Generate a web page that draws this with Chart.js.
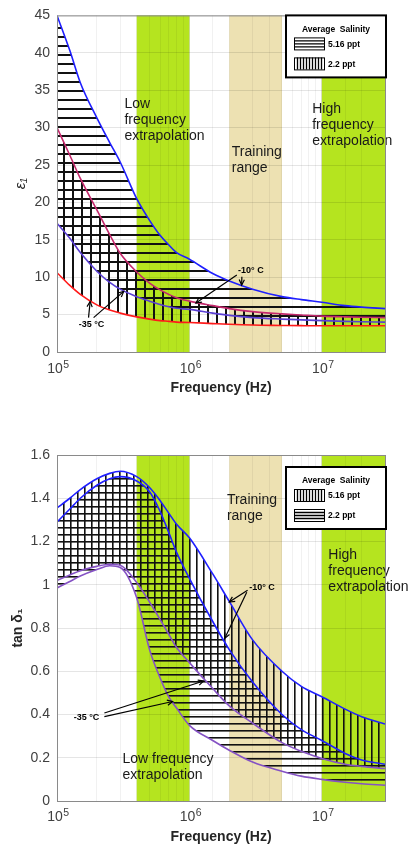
<!DOCTYPE html>
<html>
<head>
<meta charset="utf-8">
<script src="https://cdn.jsdelivr.net/npm/chart.js@4.4.1/dist/chart.umd.min.js"></script>
<style>
  html, body { margin: 0; padding: 0; background: #fff; }
  #wrap { position: relative; width: 409px; height: 847px; }
  #permChart { position: absolute; left: 0; top: 0; }
  #lossChart { position: absolute; left: 0; top: 415px; }
</style>
</head>
<body>
<div id="wrap">
  <canvas id="permChart" width="409" height="398"></canvas>
  <canvas id="lossChart" width="409" height="432"></canvas>
</div>
<script>
const FONT = '"Liberation Sans", Arial, sans-serif';

// shared frequency grid (Hz)
const freqs = [1e5, 1.25e5, 1.5e5, 2e5, 2.5e5, 3e5, 4e5, 5e5, 6e5, 7e5, 8e5, 1e6, 1.5e6, 2e6, 3e6, 5e6, 7e6, 1e7, 1.5e7, 2e7, 3e7];

// real permittivity, -10 C and -35 C for each salinity
const eps516Warm = [45, 40.3, 36, 31.3, 28, 25.4, 20.5, 17.6, 15.6, 14.3, 13.3, 12.4, 10.5, 9.5, 8.4, 7.4, 7.0, 6.65, 6.2, 6.0, 5.8];
const eps22Warm  = [30, 26.3, 23.2, 19.0, 15.7, 13.2, 10.7, 9.2, 8.3, 7.7, 7.25, 6.8, 6.2, 5.8, 5.4, 5.1, 4.95, 4.8, 4.7, 4.65, 4.6];
const eps516Cold = [17.2, 15.2, 13.3, 10.8, 9.3, 8.4, 7.4, 6.8, 6.35, 6.05, 5.85, 5.7, 5.2, 4.9, 4.6, 4.4, 4.3, 4.2, 4.1, 4.05, 4.0];
const eps22Cold  = [10.6, 8.9, 7.7, 6.3, 5.6, 5.2, 4.7, 4.4, 4.2, 4.1, 4.0, 3.95, 3.8, 3.7, 3.6, 3.55, 3.52, 3.5, 3.5, 3.5, 3.5];

// loss tangent
const tan516Warm = [1.355, 1.40, 1.44, 1.49, 1.515, 1.525, 1.50, 1.45, 1.39, 1.33, 1.28, 1.217, 1.05, 0.923, 0.745, 0.60, 0.53, 0.482, 0.425, 0.39, 0.356];
const tan22Warm  = [1.29, 1.35, 1.40, 1.46, 1.49, 1.50, 1.48, 1.43, 1.34, 1.24, 1.15, 1.03, 0.83, 0.70, 0.55, 0.40, 0.33, 0.28, 0.22, 0.19, 0.17];
const tan516Cold = [1.02, 1.045, 1.065, 1.085, 1.095, 1.09, 1.01, 0.92, 0.84, 0.77, 0.71, 0.64, 0.52, 0.44, 0.36, 0.27, 0.23, 0.197, 0.17, 0.16, 0.15];
const tan22Cold  = [0.985, 1.015, 1.04, 1.07, 1.088, 1.08, 0.94, 0.70, 0.57, 0.48, 0.43, 0.35, 0.28, 0.235, 0.18, 0.138, 0.115, 0.10, 0.087, 0.08, 0.073];

// frequency ranges
const lowBand = [4e5, 1e6];
const trainBand = [2e6, 5e6];
const highBand = [1e7, 3e7];

const salinityTitle = 'Average  Salinity';
const salinityLabels = ['5.16 ppt', '2.2 ppt'];
const epsTicks = { min: 0, max: 45, step: 5 };
const tanTicks = { min: 0, max: 1.6, step: 0.2 };

const isDecade = v => { const p = Math.log10(v); return Math.abs(p - Math.round(p)) < 1e-6; };

function hatch(ctx, dir, gap, width) {
    const c = document.createElement('canvas');
    c.width = gap; c.height = gap;
    const g = c.getContext('2d');
    g.fillStyle = '#111';
    if (dir === 'h') g.fillRect(0, 0, gap, width);
    else g.fillRect(0, 0, width, gap);
    return ctx.createPattern(c, 'repeat');
}

function curve(label, values, color, fillTo, pattern) {
    return {
        label: label,
        data: freqs.map((f, i) => ({ x: f, y: values[i] })),
        borderColor: color,
        borderWidth: 1.6,
        pointRadius: 0,
        cubicInterpolationMode: 'monotone',
        fill: fillTo === undefined ? false : fillTo,
        backgroundColor: pattern || 'transparent'
    };
}

function drawArrow(ctx, x0, y0, x1, y1) {
    ctx.beginPath(); ctx.moveTo(x0, y0); ctx.lineTo(x1, y1); ctx.stroke();
    const a = Math.atan2(y1 - y0, x1 - x0), h = 6;
    ctx.beginPath();
    ctx.moveTo(x1 - h * Math.cos(a - 0.45), y1 - h * Math.sin(a - 0.45));
    ctx.lineTo(x1, y1);
    ctx.lineTo(x1 - h * Math.cos(a + 0.45), y1 - h * Math.sin(a + 0.45));
    ctx.stroke();
}

// shaded frequency ranges under the grid
const bandsPlugin = {
    id: 'bands',
    beforeDraw(chart) {
        const { ctx, chartArea: a, scales: { x } } = chart;
        ctx.save();
        [[lowBand, '#b5e41f'], [trainBand, '#ede1b2'], [highBand, '#b5e41f']].forEach(([b, col]) => {
            const x0 = x.getPixelForValue(b[0]), x1 = x.getPixelForValue(b[1]);
            ctx.fillStyle = col;
            ctx.fillRect(x0, a.top, x1 - x0, a.bottom - a.top);
        });
        ctx.restore();
    }
};

// region labels, temperature arrows, axes box, decade labels and salinity key
const notesPlugin = {
    id: 'notes',
    afterDraw(chart, args, opts) {
        const { ctx, chartArea: a, scales: { x, y } } = chart;
        const px = (p) => [x.getPixelForValue(p[0]), y.getPixelForValue(p[1])];
        ctx.save();

        ctx.fillStyle = '#1a1a1a';
        ctx.font = '14px ' + FONT;
        ctx.textAlign = 'left';
        ctx.textBaseline = 'middle';
        opts.labels.forEach(l => {
            const [lx, ly] = px(l.at);
            l.lines.forEach((t, i) => ctx.fillText(t, lx, ly + i * 16));
        });

        // 10^n labels under the log axis
        ctx.fillStyle = '#404040';
        ctx.textBaseline = 'alphabetic';
        x.ticks.forEach(t => {
            if (!isDecade(t.value)) return;
            const exp = String(Math.round(Math.log10(t.value)));
            const tx = x.getPixelForValue(t.value);
            ctx.font = '14px ' + FONT;
            const w1 = ctx.measureText('10').width;
            ctx.font = '10.5px ' + FONT;
            const w2 = ctx.measureText(exp).width;
            const sx = tx - (w1 + w2) / 2 + 1;
            ctx.font = '14px ' + FONT;
            ctx.fillText('10', sx, a.bottom + opts.tickBase);
            ctx.font = '10.5px ' + FONT;
            ctx.fillText(exp, sx + w1 + 0.5, a.bottom + opts.tickBase - 5);
        });

        ctx.strokeStyle = '#000';
        ctx.fillStyle = '#000';
        ctx.lineWidth = 1.2;
        ctx.font = 'bold 9px ' + FONT;
        ctx.textAlign = 'center';
        ctx.textBaseline = 'middle';
        opts.temps.forEach(t => {
            const [tx, ty] = px(t.at);
            ctx.fillText(t.text, tx, ty);
            t.arrows.forEach(([from, to]) => {
                const [x0, y0] = px(from), [x1, y1] = px(to);
                drawArrow(ctx, x0, y0, x1, y1);
            });
        });

        ctx.strokeStyle = '#8a8a8a';
        ctx.lineWidth = 1;
        ctx.strokeRect(a.left + 0.5, a.top + 0.5, a.right - a.left, a.bottom - a.top);

        // salinity key
        const bx = a.right - 99, by = a.top + opts.keyTop, bw = 100, bh = 62;
        ctx.fillStyle = '#fff';
        ctx.fillRect(bx, by, bw, bh);
        ctx.strokeStyle = '#000';
        ctx.lineWidth = 2;
        ctx.strokeRect(bx, by, bw, bh);
        ctx.fillStyle = '#000';
        ctx.font = 'bold 8.5px ' + FONT;
        ctx.textAlign = 'center';
        ctx.fillText(salinityTitle, bx + 50, by + 14);
        ctx.textAlign = 'left';
        salinityLabels.forEach((lab, i) => {
            const sx = bx + 8, sy = by + 22 + i * 20, sw = 30, sh = 12;
            ctx.lineWidth = 1;
            ctx.strokeStyle = '#000';
            ctx.strokeRect(sx + 0.5, sy + 0.5, sw, sh);
            ctx.lineWidth = 1.3;
            ctx.beginPath();
            if (opts.keyHatch[i] === 'h') {
                for (let k = 3; k < sh; k += 3) { ctx.moveTo(sx, sy + k + 0.5); ctx.lineTo(sx + sw, sy + k + 0.5); }
            } else {
                for (let k = 3; k < sw; k += 3) { ctx.moveTo(sx + k + 0.5, sy); ctx.lineTo(sx + k + 0.5, sy + sh); }
            }
            ctx.stroke();
            ctx.fillText(lab, sx + sw + 4, sy + sh / 2 + 1);
        });
        ctx.restore();
    }
};

function logAxis() {
    return {
        type: 'logarithmic',
        min: 1e5,
        max: 3e7,
        afterFit: s => { s.height = 46; },
        grid: {
            drawTicks: false,
            color: c => (c.tick && isDecade(c.tick.value)) ? 'rgba(0,0,0,0.11)' : 'rgba(0,0,0,0.055)'
        },
        border: { display: false },
        ticks: {
            autoSkip: false,
            maxRotation: 0,
            padding: 7,
            font: { family: FONT, size: 14 },
            callback: () => ''
        },
        title: {
            display: true,
            text: 'Frequency (Hz)',
            color: '#262626',
            font: { family: FONT, size: 14, weight: 'bold' },
            padding: { top: 0, bottom: 1 }
        }
    };
}

function linAxis(t, titleText, titleFont, titlePad) {
    return {
        type: 'linear',
        min: t.min,
        max: t.max,
        afterFit: s => { s.width = 57; },
        grid: { drawTicks: false, color: 'rgba(0,0,0,0.1)' },
        border: { display: false },
        ticks: {
            stepSize: t.step,
            padding: 7,
            color: '#404040',
            font: { family: FONT, size: 14 },
            callback: v => String(+v.toFixed(1))
        },
        title: {
            display: true,
            text: titleText,
            color: '#262626',
            font: titleFont,
            padding: { top: titlePad, bottom: 0 }
        }
    };
}

function initPermChart() {
    const el = document.getElementById('permChart');
    const ctx = el.getContext('2d');
    const hPat = hatch(ctx, 'h', 9, 2);
    const vPat = hatch(ctx, 'v', 9, 2);

    new Chart(el, {
        type: 'line',
        data: {
            datasets: [
                curve('5.16 ppt, -10 °C', eps516Warm, '#1f1fff', 2, hPat),
                curve('2.2 ppt, -10 °C', eps22Warm, '#c4286c', 3, vPat),
                curve('5.16 ppt, -35 °C', eps516Cold, '#5a3fd4'),
                curve('2.2 ppt, -35 °C', eps22Cold, '#ff1a1a')
            ]
        },
        options: {
            responsive: false,
            animation: false,
            layout: { padding: { top: 7, right: 24, left: 0, bottom: 0 } },
            scales: {
                x: logAxis(),
                y: linAxis(epsTicks, 'ε₁', { family: FONT, size: 15, style: 'italic' }, 12)
            },
            plugins: {
                legend: { display: false },
                tooltip: { enabled: false },
                filler: { drawTime: 'beforeDatasetsDraw' },
                notes: {
                    keyTop: 0,
                    keyHatch: ['h', 'v'],
                    tickBase: 21,
                    labels: [
                        { at: [3.23e5, 33.2], lines: ['Low', 'frequency', 'extrapolation'] },
                        { at: [2.09e6, 26.7], lines: ['Training', 'range'] },
                        { at: [8.46e6, 32.5], lines: ['High', 'frequency', 'extrapolation'] }
                    ],
                    temps: [
                        { text: '-10° C', at: [2.91e6, 10.95],
                          arrows: [[[2.28e6, 10.3], [1.12e6, 6.55]], [[2.49e6, 10.05], [2.48e6, 8.95]]] },
                        { text: '-35 °C', at: [1.82e5, 3.65],
                          arrows: [[[1.73e5, 4.6], [1.78e5, 6.75]], [[1.89e5, 4.6], [3.19e5, 8.1]]] }
                    ]
                }
            }
        },
        plugins: [bandsPlugin, notesPlugin]
    });
}

function initLossChart() {
    const el = document.getElementById('lossChart');
    const ctx = el.getContext('2d');
    const hPat = hatch(ctx, 'h', 7, 1.6);
    const vPat = hatch(ctx, 'v', 7, 1.6);

    new Chart(el, {
        type: 'line',
        data: {
            datasets: [
                curve('5.16 ppt, -10 °C', tan516Warm, '#1f1fff', 2, vPat),
                curve('2.2 ppt, -10 °C', tan22Warm, '#1f1fff', 3, hPat),
                curve('5.16 ppt, -35 °C', tan516Cold, '#8552c4'),
                curve('2.2 ppt, -35 °C', tan22Cold, '#8552c4')
            ]
        },
        options: {
            responsive: false,
            animation: false,
            layout: { padding: { top: 40, right: 24, left: 0, bottom: 0 } },
            scales: {
                x: logAxis(),
                y: linAxis(tanTicks, 'tan δ₁', { family: FONT, size: 14, weight: 'bold' }, 10)
            },
            plugins: {
                legend: { display: false },
                tooltip: { enabled: false },
                filler: { drawTime: 'beforeDatasetsDraw' },
                notes: {
                    keyTop: 12,
                    keyHatch: ['v', 'h'],
                    tickBase: 20,
                    labels: [
                        { at: [1.92e6, 1.39], lines: ['Training', 'range'] },
                        { at: [1.12e7, 1.135], lines: ['High', 'frequency', 'extrapolation'] },
                        { at: [3.12e5, 0.193], lines: ['Low frequency', 'extrapolation'] }
                    ],
                    temps: [
                        { text: '-10° C', at: [3.53e6, 0.987],
                          arrows: [[[2.75e6, 0.975], [2.0e6, 0.92]], [[2.71e6, 0.965], [1.85e6, 0.753]]] },
                        { text: '-35 °C', at: [1.67e5, 0.384],
                          arrows: [[[2.28e5, 0.407], [1.28e6, 0.555]], [[2.28e5, 0.39], [7.47e5, 0.46]]] }
                    ]
                }
            }
        },
        plugins: [bandsPlugin, notesPlugin]
    });
}

initPermChart();
initLossChart();
</script>
</body>
</html>
